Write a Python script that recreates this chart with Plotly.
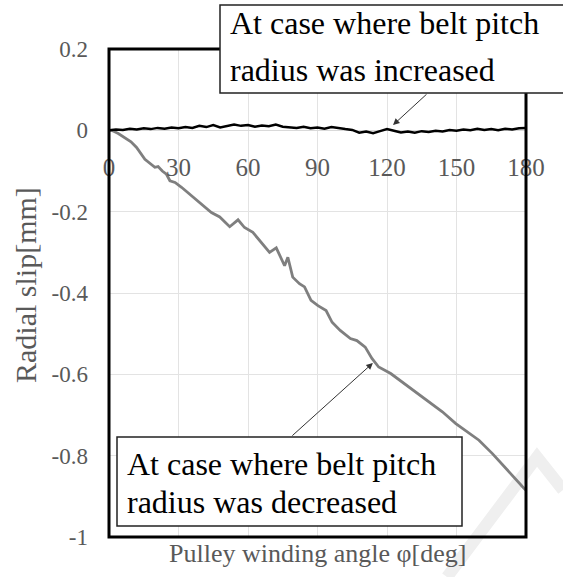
import plotly.graph_objects as go

# ---- data ----
inc_deg = [0, 3, 6, 9, 12, 15, 18, 21, 24, 27, 30, 33, 36, 39, 42, 45, 48, 51, 54, 57,
           60, 63, 66, 69, 72, 75, 78, 81, 84, 87, 90, 93, 96, 99, 102, 105, 108, 111, 114, 117,
           120, 123, 126, 129, 132, 135, 138, 141, 144, 147, 150, 153, 156, 159, 162, 165, 168, 171, 174, 177, 180]
inc_slip = [0.000, 0.002, 0.001, 0.004, 0.002, 0.005, 0.003, 0.006, 0.004, 0.007, 0.005, 0.008, 0.006, 0.011, 0.008,
            0.013, 0.007, 0.010, 0.014, 0.011, 0.013, 0.009, 0.012, 0.010, 0.014, 0.009, 0.008, 0.006, 0.009, 0.005,
            0.007, 0.004, 0.008, 0.005, 0.003, 0.001, -0.006, -0.003, -0.007, -0.002, 0.003, -0.001, -0.005, -0.003,
            -0.006, -0.002, -0.004, -0.001, -0.003, 0.001, -0.001, 0.002, 0.000, 0.004, 0.001, 0.003, 0.000, 0.004,
            0.002, 0.005, 0.006]

dec_deg = [0, 1.1, 4, 6.9, 9.5, 11.9, 15.5, 19.8, 21.2, 23, 24.8, 26.3, 28.5, 31.3, 35.6, 40.6, 44.2, 47.8, 52.1,
           55.7, 58.5, 62.1, 66.4, 69.3, 72.2, 75.8, 77.2, 79.3, 82.2, 84.4, 87.2, 90.2, 93.7, 96.3, 99.8, 104.2,
           107.0, 110.6, 113.5, 116.4, 121.6, 126.7, 132.4, 138.2, 143.9, 149.7, 154.7, 159.7, 165.5, 170.5, 174.8,
           179.1, 180]
dec_slip = [0.000, 0.000, -0.008, -0.018, -0.028, -0.042, -0.071, -0.091, -0.089, -0.100, -0.108, -0.124, -0.128,
            -0.140, -0.161, -0.185, -0.202, -0.213, -0.237, -0.220, -0.239, -0.251, -0.279, -0.300, -0.289, -0.333,
            -0.312, -0.361, -0.377, -0.385, -0.418, -0.431, -0.443, -0.472, -0.492, -0.512, -0.517, -0.533, -0.561,
            -0.582, -0.598, -0.619, -0.643, -0.668, -0.692, -0.721, -0.742, -0.762, -0.795, -0.827, -0.852, -0.880,
            -0.885]

x_ticks = [0, 30, 60, 90, 120, 150, 180]
y_ticks = [-1, -0.8, -0.6, -0.4, -0.2, 0, 0.2]
y_tick_text = ["-1", "-0.8", "-0.6", "-0.4", "-0.2", "0", "0.2"]

label_inc = ["At case where belt pitch", "radius was increased"]
label_dec = ["At case where belt pitch", "radius was decreased"]

FONT = "Liberation Serif"
GREY_TXT = "#595959"

W, H = 563, 577
L, R, T, B = 109, 37, 49, 40
PW, PH = W - L - R, H - T - B


def px2paper(px, py):
    return (px - L) / PW, (H - B - py) / PH


fig = go.Figure()
fig.add_trace(go.Scatter(x=dec_deg, y=dec_slip, mode="lines",
                         line=dict(color="#7f7f7f", width=2.8), showlegend=False))
fig.add_trace(go.Scatter(x=inc_deg, y=inc_slip, mode="lines",
                         line=dict(color="#000000", width=2.5), showlegend=False))

fig.update_layout(
    width=W, height=H,
    margin=dict(l=L, r=R, t=T, b=B, pad=0),
    paper_bgcolor="white", plot_bgcolor="rgba(0,0,0,0)",
    showlegend=False,
    font=dict(family=FONT, color=GREY_TXT),
    xaxis=dict(range=[0, 180], tickvals=x_ticks, ticktext=[str(v) for v in x_ticks],
               showgrid=True, gridcolor="#e3e3e3", gridwidth=1,
               zeroline=False, showline=False, ticks="",
               anchor="free", position=1 / 1.2, side="bottom",
               ticklabelstandoff=20,
               tickfont=dict(family=FONT, size=25, color=GREY_TXT)),
    yaxis=dict(range=[-1, 0.2], tickvals=y_ticks, ticktext=y_tick_text,
               showgrid=True, gridcolor="#e3e3e3", gridwidth=1,
               zeroline=True, zerolinecolor="#d9d9d9", zerolinewidth=1,
               showline=False, ticks="", ticklabelstandoff=20,
               tickfont=dict(family=FONT, size=23, color=GREY_TXT)),
)

shapes = []
# faint watermark stroke (bottom right)
p = [px2paper(447, 577), px2paper(537, 457), px2paper(563, 490)]
path = "M {} {} L {} {} L {} {}".format(p[0][0], p[0][1], p[1][0], p[1][1], p[2][0], p[2][1])
shapes.append(dict(type="path", xref="paper", yref="paper", path=path,
                   line=dict(color="#efefef", width=12), layer="below"))
# plot frame
shapes.append(dict(type="rect", xref="paper", yref="paper", x0=0, x1=1, y0=0, y1=1,
                   line=dict(color="black", width=3), layer="above"))
# annotation boxes
x0, y1 = px2paper(220, 5)
x1, y0 = px2paper(580, 93)
shapes.append(dict(type="rect", xref="paper", yref="paper", x0=x0, x1=x1, y0=y0, y1=y1,
                   line=dict(color="#222222", width=1.5), fillcolor="white", layer="above"))
x0, y1 = px2paper(117, 437)
x1, y0 = px2paper(462, 526)
shapes.append(dict(type="rect", xref="paper", yref="paper", x0=x0, x1=x1, y0=y0, y1=y1,
                   line=dict(color="#222222", width=1.5), fillcolor="white", layer="above"))
fig.update_layout(shapes=shapes)

ann = []
# box texts
for txt, py in zip(label_inc, [23, 70]):
    ax_, ay_ = px2paper(228, py)
    ann.append(dict(x=ax_, y=ay_, xref="paper", yref="paper", text=txt, showarrow=False,
                    xanchor="left", yanchor="middle", font=dict(family=FONT, size=32, color="black")))
for txt, py in zip(label_dec, [464, 502]):
    ax_, ay_ = px2paper(125, py)
    ann.append(dict(x=ax_, y=ay_, xref="paper", yref="paper", text=txt, showarrow=False,
                    xanchor="left", yanchor="middle", font=dict(family=FONT, size=32, color="black")))
# arrows
ann.append(dict(x=122.6, y=0.013, xref="x", yref="y", ax=137.7, ay=0.092, axref="x", ayref="y",
                text="", showarrow=True, arrowhead=2, arrowsize=1.3, arrowwidth=1, arrowcolor="#333333"))
ann.append(dict(x=113.9, y=-0.572, xref="x", yref="y", ax=78.5, ay=-0.754, axref="x", ayref="y",
                text="", showarrow=True, arrowhead=2, arrowsize=1.3, arrowwidth=1, arrowcolor="#333333"))
# axis titles
tx, ty = px2paper(317, 553)
ann.append(dict(x=tx, y=ty, xref="paper", yref="paper", text="Pulley winding angle φ[deg]",
                showarrow=False, xanchor="center", yanchor="middle",
                font=dict(family=FONT, size=26, color=GREY_TXT)))
tx, ty = px2paper(25, 285)
ann.append(dict(x=tx, y=ty, xref="paper", yref="paper", text="Radial slip[mm]", textangle=-90,
                showarrow=False, xanchor="center", yanchor="middle",
                font=dict(family=FONT, size=30, color=GREY_TXT)))
fig.update_layout(annotations=ann)

fig.write_html("out.html")
